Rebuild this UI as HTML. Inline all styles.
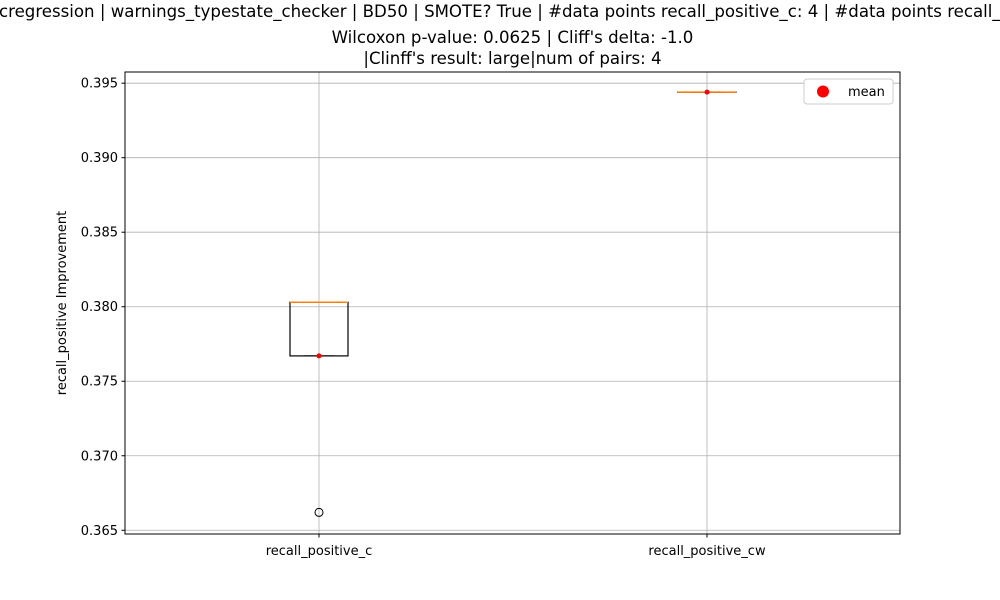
<!DOCTYPE html>
<html><head><meta charset="utf-8"><style>
body{margin:0;background:#fff;}
svg{display:block;font-family:"DejaVu Sans","Liberation Sans",sans-serif;}
</style></head><body>
<svg id="chart" width="1000" height="600" viewBox="0 0 1000 600">
<rect width="1000" height="600" fill="#fff"/>
<g font-size="16.6" text-anchor="middle" fill="#000">
<text x="-1" y="17" text-anchor="start">cregression | warnings_typestate_checker | BD50 | SMOTE? True | #data points recall_positive_c: 4 | #data points recall_positive_cw: 4</text>
<text x="512.5" y="43">Wilcoxon p-value: 0.0625 | Cliff's delta: -1.0</text>
<text x="512.5" y="64">|Clinff's result: large|num of pairs: 4</text>
</g>
<g id="grid"></g>
<g id="marks"></g>
<rect x="125" y="72" width="775" height="462" fill="none" stroke="#000" stroke-width="1"/>
<g id="axes"></g>
<text transform="translate(66,303) rotate(-90)" text-anchor="middle" font-size="13">recall_positive Improvement</text>
<g>
<rect x="804" y="79" width="89" height="25" rx="3" fill="#fff" stroke="#ccc"/>
<circle cx="823" cy="91.5" r="6" fill="red"/>
<text x="848" y="96" font-size="13">mean</text>
</g>
</svg>
<script>
const categories=["recall_positive_c","recall_positive_cw"];
const q1=[0.3767,0.3944];
const median=[0.3803,0.3944];
const q3=[0.3803,0.3944];
const whiskerLow=[0.3767,0.3944];
const whiskerHigh=[0.3803,0.3944];
const means=[0.3767,0.3944];
const outliers=[[0.3662],[]];
const yTicks=[0.365,0.370,0.375,0.380,0.385,0.390,0.395];
const yTickLabels=["0.365","0.370","0.375","0.380","0.385","0.390","0.395"];

const NS="http://www.w3.org/2000/svg";
const L=125,R=900,T=72,B=534;
const yMin=0.36475,yMax=0.39575;
function y(v){return B-(v-yMin)/(yMax-yMin)*(B-T);}
function el(tag,attrs,parent){const e=document.createElementNS(NS,tag);for(const k in attrs)e.setAttribute(k,attrs[k]);parent.appendChild(e);return e;}
const grid=document.getElementById('grid'),marks=document.getElementById('marks'),axes=document.getElementById('axes');
function px(i){return 319+(707-319)*i;}
yTicks.forEach((t,k)=>{
 const yy=y(t);
 const g=el('line',{x1:L,x2:R,y1:yy,y2:yy,stroke:'#b0b0b0','stroke-width':0.8},grid);
 
 
 const tk=el('line',{x1:L-3.5,x2:L,y1:yy,y2:yy,stroke:'#000'},axes);
 
 
 const tx=el('text',{x:L-7,y:yy+4.5,'text-anchor':'end','font-size':13},axes);
 tx.textContent=yTickLabels[k];
 
 
});
categories.forEach((c,i)=>{
 const xx=px(i);
 const g=el('line',{x1:xx,x2:xx,y1:T,y2:B,stroke:'#b0b0b0','stroke-width':0.8},grid);
 
 
 const tk=el('line',{x1:xx,x2:xx,y1:B,y2:B+3.5,stroke:'#000'},axes);
 
 
 const tx=el('text',{x:xx,y:B+21,'text-anchor':'middle','font-size':13},axes);
 tx.textContent=c;
 
 
 const hw=29,cw=15;
 const g2=el('g',{},marks);
 
 
 el('line',{x1:xx,x2:xx,y1:y(q1[i]),y2:y(whiskerLow[i]),stroke:'#000'},g2);
 el('line',{x1:xx,x2:xx,y1:y(q3[i]),y2:y(whiskerHigh[i]),stroke:'#000'},g2);
 el('line',{x1:xx-cw,x2:xx+cw,y1:y(whiskerLow[i]),y2:y(whiskerLow[i]),stroke:'#000'},g2);
 el('line',{x1:xx-cw,x2:xx+cw,y1:y(whiskerHigh[i]),y2:y(whiskerHigh[i]),stroke:'#000'},g2);
 el('rect',{x:xx-hw,y:y(q3[i]),width:2*hw,height:Math.max(0.01,y(q1[i])-y(q3[i])),fill:'none',stroke:'#000','stroke-width':1.2},g2);
 el('line',{x1:xx-hw,x2:xx+hw,y1:y(median[i]),y2:y(median[i]),stroke:'#ff7f0e','stroke-width':1.5},g2);
 const m=el('circle',{cx:xx,cy:y(means[i]),r:2.5,fill:'red'},marks);
 
 
 outliers[i].forEach(o=>{
  const oc=el('circle',{cx:xx,cy:y(o),r:4,fill:'none',stroke:'#000'},marks);
  
  
 });
});
</script>
</body></html>
